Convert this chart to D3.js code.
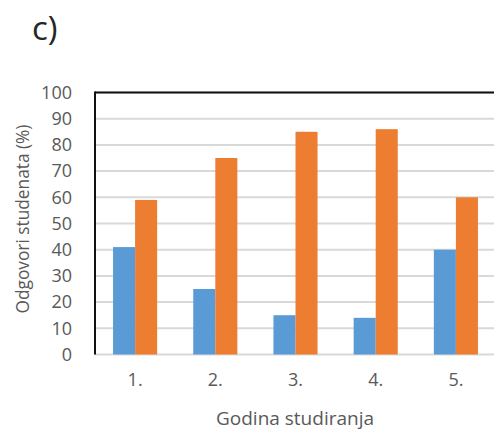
<!DOCTYPE html>
<html><head><meta charset="utf-8">
<script src="https://cdn.jsdelivr.net/npm/d3@7"></script>
<style>body{margin:0;background:#fff;} svg{display:block;}</style>
</head><body>
<svg id="c" width="494" height="434"></svg>
<script>
const categories = ["1.", "2.", "3.", "4.", "5."];
const seriesBlue = [41, 25, 15, 14, 40];
const seriesOrange = [59, 75, 85, 86, 60];
const yTicks = [0, 10, 20, 30, 40, 50, 60, 70, 80, 90, 100];
const seriesNames = ["blue", "orange"];
const colors = ["#5B9BD5", "#ED7D31"];

(function(){
const svg = d3.select("#c");
const font = "'Open Sans', sans-serif";
const pLeft = 95, pRight = 496, pTop = 92.5, pBottom = 354.5;

const x = d3.scaleBand().domain(categories).range([pLeft, pRight]).paddingInner(0.45).paddingOuter(0.225);
const xs = d3.scaleBand().domain(seriesNames).range([0, x.bandwidth()]);
const y = d3.scaleLinear().domain([0, 100]).range([pBottom, pTop]);

svg.append("g").selectAll("line").data(yTicks).join("line")
  .attr("x1", pLeft).attr("x2", pRight)
  .attr("y1", d => y(d)).attr("y2", d => y(d))
  .attr("stroke", "#d9d9d9").attr("stroke-width", 2);

const data = categories.map((c, i) => ({c, vals: [seriesBlue[i], seriesOrange[i]]}));
const g = svg.append("g").selectAll("g").data(data).join("g")
  .attr("transform", d => `translate(${x(d.c)},0)`);
g.selectAll("rect").data(d => d.vals.map((v, j) => ({v, s: seriesNames[j], j}))).join("rect")
  .attr("x", d => xs(d.s)).attr("width", xs.bandwidth())
  .attr("y", d => y(d.v)).attr("height", d => y(0) - y(d.v))
  .attr("fill", d => colors[d.j]);

svg.append("line").attr("x1", pLeft).attr("x2", pLeft).attr("y1", pTop - 1).attr("y2", pBottom)
  .attr("stroke", "#111").attr("stroke-width", 2);
svg.append("line").attr("x1", pLeft).attr("x2", pRight).attr("y1", pTop).attr("y2", pTop)
  .attr("stroke", "#111").attr("stroke-width", 2);

const yAxis = d3.axisLeft(y).tickValues(yTicks).tickSize(0).tickPadding(23);
const ya = svg.append("g").attr("transform", `translate(${pLeft},0)`).call(yAxis);
ya.select(".domain").remove();
ya.selectAll("text").attr("fill", "#595959").style("font-family", font).style("font-size", "18px");

const xAxis = d3.axisBottom(x).tickSize(0).tickPadding(19);
const xa = svg.append("g").attr("transform", `translate(0,${pBottom})`).call(xAxis);
xa.select(".domain").remove();
xa.selectAll("text").attr("fill", "#595959").style("font-family", font).style("font-size", "18px");

svg.append("text").attr("x", 295).attr("y", 425).attr("text-anchor", "middle")
  .attr("fill", "#595959").style("font-family", font).style("font-size", "19px")
  .text("Godina studiranja");
svg.append("text").attr("transform", "translate(29,219) rotate(-90)").attr("text-anchor", "middle")
  .attr("fill", "#595959").style("font-family", font).style("font-size", "17.3px")
  .text("Odgovori studenata (%)");
svg.append("text").attr("x", 32).attr("y", 40)
  .attr("fill", "#262626").style("font-family", font).style("font-size", "33px")
  .text("c)");
})();
</script>
</body></html>
